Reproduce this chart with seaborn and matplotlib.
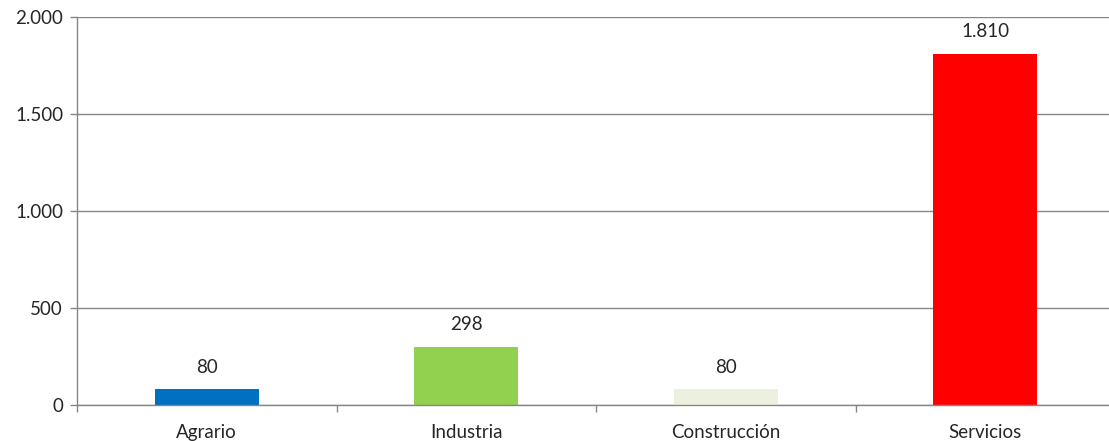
import matplotlib
matplotlib.use("Agg")
import matplotlib.pyplot as plt
import seaborn as sns
import pandas as pd
from matplotlib.ticker import FuncFormatter, FixedLocator, NullFormatter

# data
sectores = ["Agrario", "Industria", "Construcción", "Servicios"]
valores = [80, 298, 80, 1810]
colores = ["#0070C0", "#92D050", "#EBF1DE", "#FF0000"]

df = pd.DataFrame({"sector": sectores, "valor": valores})

sns.set_style("white")
plt.rcParams["font.family"] = ["Lato", "DejaVu Sans"]

fig = plt.figure(figsize=(11.09, 4.41), dpi=100)
ax = fig.add_axes([77 / 1109, 36 / 441, 1038 / 1109, 388 / 441])

sns.barplot(data=df, x="sector", y="valor", hue="sector", palette=colores,
            width=0.4, legend=False, ax=ax, saturation=1, linewidth=0)

ax.set_ylim(0, 2000)
ax.set_xlim(-0.5, 3.5)
ax.set_yticks([0, 500, 1000, 1500, 2000])
ax.yaxis.set_major_formatter(FuncFormatter(lambda v, p: f"{int(v):,}".replace(",", ".")))
ax.yaxis.grid(True, color="#868686", linewidth=1)
ax.set_axisbelow(True)

# x ticks at category boundaries, labels centered
ax.xaxis.set_major_locator(FixedLocator([-0.5, 0.5, 1.5, 2.5, 3.5]))
ax.xaxis.set_major_formatter(NullFormatter())
ax.xaxis.set_minor_locator(FixedLocator([0, 1, 2, 3]))
ax.set_xticklabels(sectores, minor=True)
ax.tick_params(axis="x", which="major", direction="out", length=5, color="#868686", width=1)
ax.tick_params(axis="x", which="minor", length=0, labelsize=13.5, pad=14)
ax.tick_params(axis="y", direction="out", length=5, color="#868686", width=1, labelsize=13.5, pad=5)
ax.yaxis.set_ticks_position("left")
ax.xaxis.set_ticks_position("bottom")

for s in ["top", "right"]:
    ax.spines[s].set_visible(False)
for s in ["left", "bottom"]:
    ax.spines[s].set_color("#868686")
    ax.spines[s].set_linewidth(1)

for c in ax.containers:
    ax.bar_label(c, labels=[f"{int(v):,}".replace(",", ".") for v in c.datavalues],
                 padding=10, fontsize=13.5)

ax.set_xlabel("")
ax.set_ylabel("")

fig.savefig("out.png", dpi=100)
